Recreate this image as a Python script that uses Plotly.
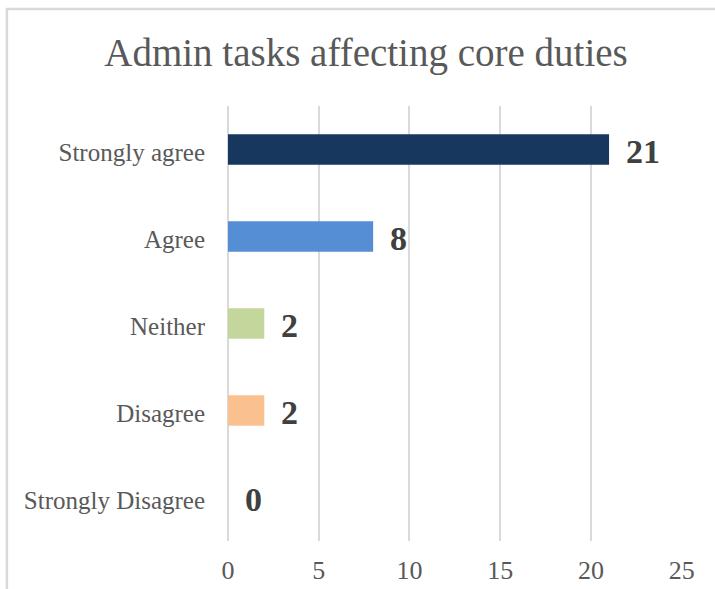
import plotly.graph_objects as go

# Survey responses: "Admin tasks affecting core duties"
categories = ["Strongly agree", "Agree", "Neither", "Disagree", "Strongly Disagree"]
counts = [21, 8, 2, 2, 0]
bar_colors = ["#17375E", "#558ED5", "#C3D69B", "#FAC090", "#F2DCDB"]
x_ticks = [0, 5, 10, 15, 20, 25]

FONT = "Liberation Serif"
GRID = "#D9D9D9"

fig = go.Figure(
    go.Bar(
        x=counts,
        y=categories,
        orientation="h",
        marker=dict(color=bar_colors, line=dict(width=0)),
        hoverinfo="x+y",
    )
)

# Bold value labels just past each bar end
for cat, val in zip(categories, counts):
    fig.add_annotation(
        x=val, y=cat, text=f"<b>{val}</b>", showarrow=False,
        xanchor="left", yanchor="middle", xshift=15, yshift=-2,
        font=dict(family=FONT, size=34, color="#404040"),
    )

# Light gray frame around the chart area
fig.add_shape(
    type="rect", xref="paper", yref="paper",
    x0=-0.487, x1=1.3, y0=-0.3, y1=1.223,
    line=dict(color=GRID, width=2.5), fillcolor="rgba(0,0,0,0)",
    layer="below",
)

fig.update_layout(
    width=715, height=589,
    margin=dict(l=228, r=33, t=106, b=48),
    paper_bgcolor="white", plot_bgcolor="white",
    bargap=0.647,
    showlegend=False,
    title=dict(
        text="Admin tasks affecting core duties",
        x=366 / 715, xref="container", xanchor="center",
        y=1 - 52 / 589, yref="container", yanchor="middle",
        font=dict(family=FONT, size=39, color="#595959"),
    ),
    xaxis=dict(
        range=[0, 25.02], tickvals=x_ticks, showgrid=True,
        gridcolor=GRID, gridwidth=2,
        zeroline=True, zerolinecolor=GRID, zerolinewidth=2,
        showline=False, ticks="", ticklabelstandoff=11, automargin=False,
        tickfont=dict(family=FONT, size=26, color="#595959"),
    ),
    yaxis=dict(
        autorange="reversed", showgrid=False, zeroline=False,
        showline=False, ticks="", ticklabelstandoff=22, automargin=False,
        ticklabelshift=-3,
        tickfont=dict(family=FONT, size=25, color="#595959"),
    ),
)

fig.write_html("out.html")
